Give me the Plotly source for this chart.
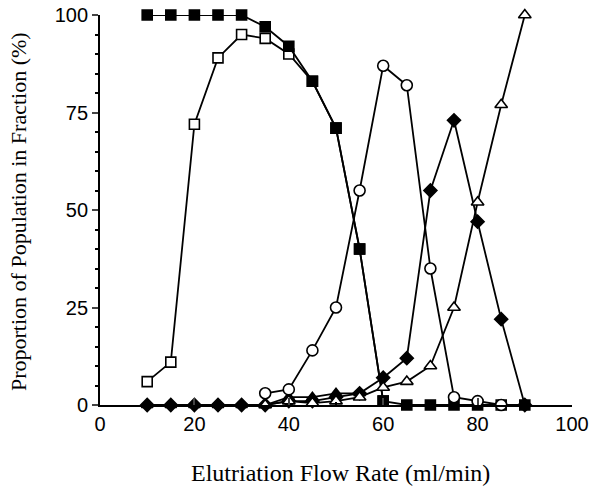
import plotly.graph_objects as go

flow = [10, 15, 20, 25, 30, 35, 40, 45, 50, 55, 60, 65, 70, 75, 80, 85, 90]

# series values (None = not plotted)
open_squares = [6, 11, 72, 89, 95, 94, 90, 83, 71, 40, 1, None, None, None, None, None, None]
filled_squares = [100, 100, 100, 100, 100, 97, 92, 83, 71, 40, 1, 0, 0, 0, 0, 0, 0]
filled_triangles = [0, 0, 0, 0, 0, 0, 2, 2, 3, 3, None, None, None, None, None, None, None]
filled_diamonds = [0, 0, 0, 0, 0, 0, 1, 1, 2, 3, 7, 12, 55, 73, 47, 22, 0]
open_triangles = [None, None, None, None, None, 0, 1, 0.5, 1, 2, 4.5, 6, 10, 25, 52, 77, 100]
open_circles = [None, None, None, None, None, 3, 4, 14, 25, 55, 87, 82, 35, 2, 1, 0, None]

x_ticks = [0, 20, 40, 60, 80, 100]
y_ticks = [0, 25, 50, 75, 100]

fig = go.Figure()

def add(vals, symbol, filled, size):
    xs = [x for x, v in zip(flow, vals) if v is not None]
    ys = [v for v in vals if v is not None]
    fig.add_trace(go.Scatter(
        x=xs, y=ys, mode="lines+markers",
        line=dict(color="black", width=1.8),
        marker=dict(symbol=symbol, size=size,
                    color="black" if filled else "white",
                    line=dict(color="black", width=1.6)),
        cliponaxis=False, showlegend=False))

add(open_squares, "square", False, 10)
add(filled_squares, "square", True, 10)
add(filled_triangles, "triangle-up", True, 10)
add(filled_diamonds, "diamond", True, 10)
add(open_triangles, "triangle-up", False, 11)
add(open_circles, "circle", False, 11)

fig.update_layout(
    width=594, height=488,
    margin=dict(l=100, r=22, t=15, b=83),
    paper_bgcolor="white", plot_bgcolor="white",
    font=dict(family="Liberation Sans", size=20, color="black"),
    annotations=[
        dict(text="Elutriation Flow Rate (ml/min)", xref="paper", yref="paper",
             x=0.51, y=-0.174, xanchor="center", yanchor="middle", showarrow=False,
             font=dict(family="Liberation Serif", size=24, color="black")),
        dict(text="Proportion of Population in Fraction (%)", xref="paper", yref="paper",
             x=-0.174, y=0.497, xanchor="center", yanchor="middle", showarrow=False,
             textangle=-90,
             font=dict(family="Liberation Serif", size=22, color="black")),
    ],
)
fig.update_xaxes(
    range=[0, 100], tickvals=x_ticks, ticks="inside", ticklen=7, tickwidth=1.5,
    showline=True, linecolor="black", linewidth=1.8, showgrid=False, zeroline=False,
    minor=dict(dtick=10, ticks="inside", ticklen=3, tickcolor="black"),
    tickfont=dict(size=20), automargin=False, ticklabeloverflow="allow",
)
fig.update_yaxes(
    range=[0, 100], tickvals=y_ticks, ticks="outside", ticklen=6, tickwidth=1.5,
    showline=True, linecolor="black", linewidth=1.8, showgrid=False, zeroline=False,
    minor=dict(dtick=5, ticks="outside", ticklen=3, tickcolor="black"),
    tickfont=dict(size=20), automargin=False, ticklabeloverflow="allow",
)

fig.write_html("out.html", config={"displayModeBar": False},
               post_script="document.body.style.margin='0';document.body.style.overflow='hidden';")
